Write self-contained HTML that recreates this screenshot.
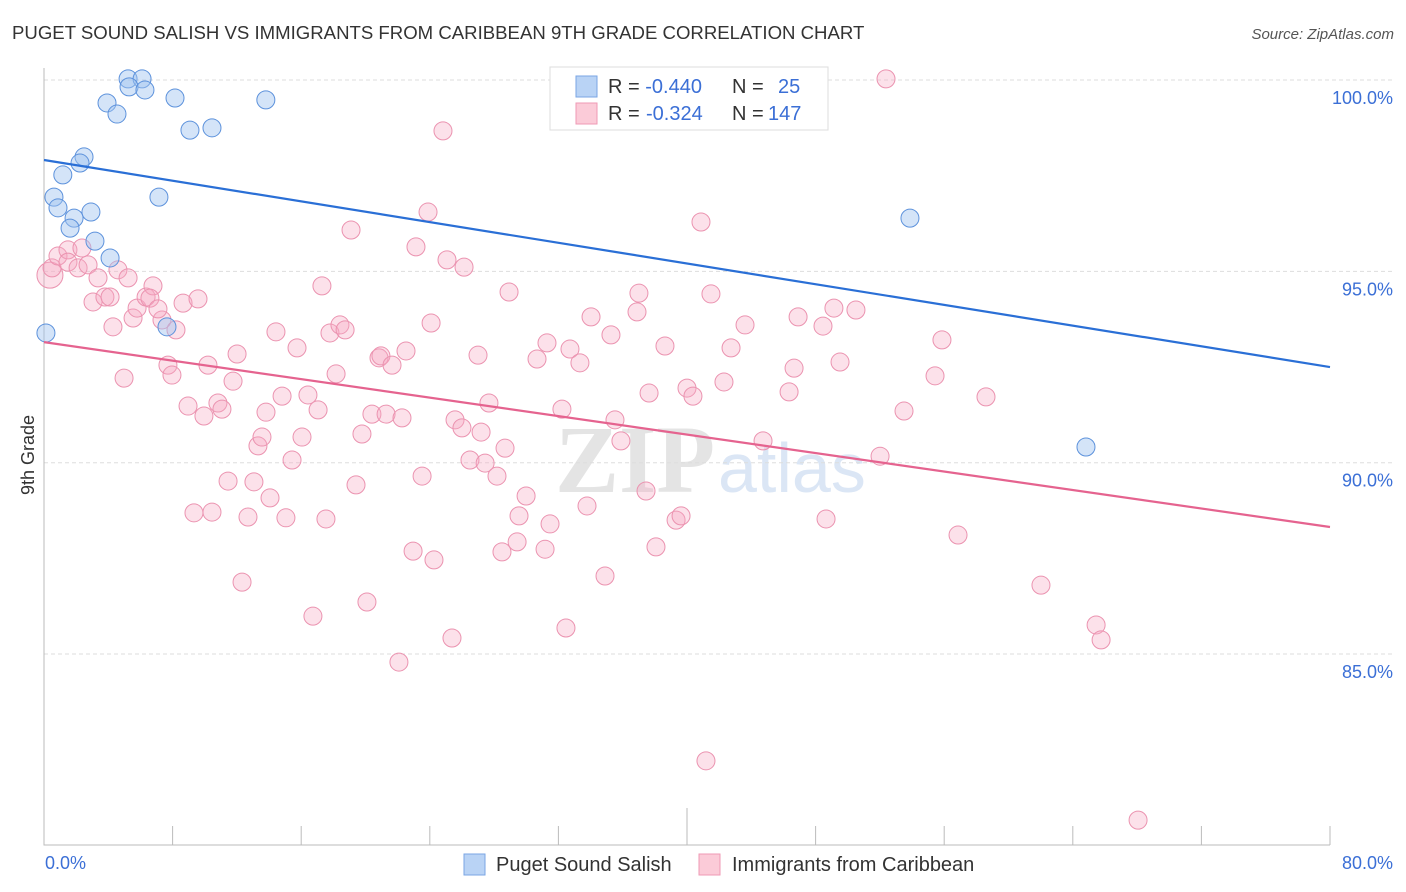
<!DOCTYPE html>
<html><head><meta charset="utf-8"><style>
body{margin:0;background:#fff;font-family:"Liberation Sans",sans-serif}
svg{display:block}
</style></head><body>
<svg id="chart" width="1406" height="892">
<text x="12" y="39" font-size="18.6" fill="#333">PUGET SOUND SALISH VS IMMIGRANTS FROM CARIBBEAN 9TH GRADE CORRELATION CHART</text>
<text x="1394" y="39" font-size="15" fill="#555" font-style="italic" text-anchor="end">Source: ZipAtlas.com</text>
<g><text x="555" y="492" font-size="96" fill="#e4e4e4" font-family="Liberation Serif,serif" font-weight="bold">ZIP</text><text x="718" y="492" font-size="70" fill="#dbe6f5">atlas</text></g>
<g id="grid"></g><g id="axes"></g><g id="pts"></g><g id="trend"></g>
<text transform="translate(34,455) rotate(-90)" font-size="18" fill="#333" text-anchor="middle">9th Grade</text>
<g>
<rect x="550" y="67" width="278" height="63" fill="#fff" stroke="#ddd"/>
<rect x="576" y="76" width="21" height="21" fill="#b9d3f5" stroke="#7aa6e4"/>
<rect x="576" y="103" width="21" height="21" fill="#fbcbd8" stroke="#ef9ab5"/>
<text x="608" y="93" font-size="20" fill="#333">R = <tspan fill="#3b6fd6">-0.440</tspan><tspan x="732">N = </tspan><tspan x="778" fill="#3b6fd6">25</tspan></text>
<text x="608" y="120" font-size="20" fill="#333">R = <tspan fill="#3b6fd6" x="646">-0.324</tspan><tspan x="732">N = </tspan><tspan x="768" fill="#3b6fd6">147</tspan></text>
</g>
<g>
<rect x="464" y="854" width="21" height="21" fill="#b9d3f5" stroke="#7aa6e4"/>
<text x="496" y="871" font-size="20" fill="#333">Puget Sound Salish</text>
<rect x="699" y="854" width="21" height="21" fill="#fbcbd8" stroke="#ef9ab5"/>
<text x="732" y="871" font-size="20" fill="#333">Immigrants from Caribbean</text>
</g>
</svg>
<script>
const yTicks=[100,95,90,85];
const yTickLabels=["100.0%","95.0%","90.0%","85.0%"];
const xTickLabels=["0.0%","80.0%"];
const blueX=[5.23,6.10,5.29,6.28,3.92,4.54,8.15,9.08,10.45,13.80,2.49,2.24,1.17,0.62,7.15,0.87,2.92,1.87,1.62,3.17,4.11,7.65,0.12,53.87,64.82];
const blueY=[100.03,100.03,99.82,99.74,99.40,99.11,99.53,98.69,98.75,99.48,97.99,97.83,97.52,96.94,96.94,96.66,96.55,96.39,96.13,95.79,95.35,93.55,93.39,96.39,90.41];
const pinkX=[0.37,0.50,0.87,1.49,1.49,2.12,2.74,2.36,3.36,3.05,3.79,4.11,4.60,5.23,4.29,5.54,5.79,6.35,6.78,6.59,7.34,8.21,7.09,8.65,9.58,4.98,7.71,7.96,10.20,12.01,11.76,8.96,9.95,10.82,11.07,11.45,9.33,10.45,12.69,12.32,13.06,13.31,13.56,13.81,14.06,14.43,14.81,15.05,15.43,15.74,16.05,16.42,16.73,17.05,17.29,17.54,17.79,18.17,18.41,18.73,19.10,19.41,19.78,20.09,20.40,20.84,20.96,21.28,21.65,22.08,22.27,22.52,22.96,23.14,23.52,23.89,24.08,24.26,24.82,25.07,25.38,25.57,26.00,26.13,26.50,27.00,27.19,27.44,27.68,28.18,28.49,28.68,28.93,29.43,29.55,29.99,30.67,31.17,31.29,31.48,32.22,32.47,32.72,33.34,33.78,34.03,34.90,35.27,35.52,35.89,37.01,36.89,37.45,37.64,38.07,38.63,39.32,39.63,40.00,40.37,40.87,41.18,41.49,42.30,42.74,43.61,44.73,46.35,46.66,46.91,48.46,48.65,49.14,49.52,50.51,52.01,52.38,53.50,55.43,55.86,56.86,58.60,62.02,65.45,65.76,68.06];
const pinkY=[94.90,95.09,95.40,95.56,95.24,95.09,95.17,95.61,94.83,94.20,94.33,94.33,95.04,94.83,93.55,93.78,94.04,94.33,94.62,94.30,93.73,93.47,94.02,94.17,94.28,92.21,92.55,92.29,92.55,92.84,92.13,91.48,91.22,91.56,91.40,89.52,88.69,88.71,88.58,86.88,89.50,90.44,90.67,91.32,89.08,93.42,91.74,88.56,90.07,93.00,90.67,91.77,85.99,91.38,94.62,88.53,93.39,92.32,93.60,93.47,96.08,89.42,90.75,86.36,91.27,92.74,92.79,91.27,92.55,84.79,91.17,92.92,87.69,95.64,89.65,96.55,93.65,87.46,98.67,95.30,85.42,91.12,90.91,95.11,90.07,92.81,90.80,89.99,91.56,89.65,87.67,90.38,94.46,87.93,88.61,89.13,92.71,87.74,93.13,88.40,91.40,85.68,92.97,92.61,88.87,93.81,87.04,93.34,91.12,90.57,94.43,93.94,89.26,91.82,87.80,93.05,88.50,88.61,91.95,91.74,96.29,82.21,94.41,92.11,93.00,93.60,90.57,91.85,92.47,93.81,93.57,88.53,94.04,92.63,93.99,90.17,100.03,91.35,92.27,93.21,88.11,91.72,86.80,85.76,85.37,80.66];
const blueTrend=[97.91,92.50];
const pinkTrend=[93.15,88.32];
const NS="http://www.w3.org/2000/svg";
const X=p=>44+p/80*1286;
const Y=v=>80+(100-v)*38.27;
function mk(parent,tag,attrs){const e=document.createElementNS(NS,tag);for(const k in attrs)e.setAttribute(k,attrs[k]);document.getElementById(parent).appendChild(e);return e;}
yTicks.forEach((v,i)=>{
 const l=mk('grid','line',{x1:44,x2:1393,y1:Y(v),y2:Y(v),stroke:'#ddd','stroke-dasharray':'4,3'});
 
 
 const t=mk('grid','text',{x:1393,y:Y(v)+24,'text-anchor':'end','font-size':18,fill:'#3b6fd6'});
 t.textContent=yTickLabels[i];
 
 
});
const ax=mk('axes','path',{d:'M44,68V845H1330',stroke:'#bbb',fill:'none'});


for(let i=1;i<=10;i++){
 const x=X(i*8);
 const tk=mk('axes','line',{x1:x,x2:x,y1:i==5?808:826,y2:845,stroke:'#bbb'});
 
 
}
const xl0=mk('axes','text',{x:45,y:869,'font-size':18,fill:'#3b6fd6'});xl0.textContent=xTickLabels[0];


const xl1=mk('axes','text',{x:1393,y:869,'font-size':18,fill:'#3b6fd6','text-anchor':'end'});xl1.textContent=xTickLabels[1];


pinkX.forEach((p,i)=>{
 const c=mk('pts','circle',{cx:X(p),cy:Y(pinkY[i]),r:i==0?13:9,fill:'rgba(246,170,195,0.35)',stroke:'#eb93b0','stroke-width':1});
 
 
});
blueX.forEach((p,i)=>{
 const c=mk('pts','circle',{cx:X(p),cy:Y(blueY[i]),r:9,fill:'rgba(160,196,240,0.45)',stroke:'#5d92dc','stroke-width':1});
 
 
});
const tb=mk('trend','line',{x1:X(0),y1:Y(blueTrend[0]),x2:X(80),y2:Y(blueTrend[1]),stroke:'#2a6fd6','stroke-width':2.2});


const tp=mk('trend','line',{x1:X(0),y1:Y(pinkTrend[0]),x2:X(80),y2:Y(pinkTrend[1]),stroke:'#e5638f','stroke-width':2.2});


</script>
</body></html>
